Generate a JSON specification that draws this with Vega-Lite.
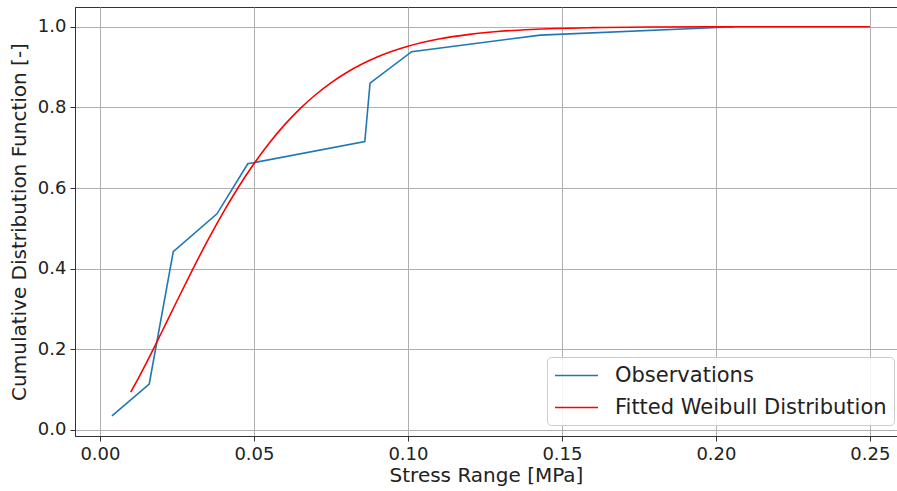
{
  "$schema": "https://vega.github.io/schema/vega-lite/v6.json",
  "width": 822,
  "height": 429,
  "autosize": {"type": "none"},
  "padding": {"left": 75, "top": 7, "right": 0, "bottom": 55},
  "background": "white",
  "config": {
    "font": "DejaVu Sans",
    "view": {"stroke": "#333333", "strokeWidth": 1}
  },
  "data": {
    "values": [
      {"x": 0.0039, "y": 0.035, "series": "Observations", "o": 1},
      {"x": 0.016, "y": 0.114, "series": "Observations", "o": 2},
      {"x": 0.0238, "y": 0.442, "series": "Observations", "o": 3},
      {"x": 0.038, "y": 0.536, "series": "Observations", "o": 4},
      {"x": 0.048, "y": 0.66, "series": "Observations", "o": 5},
      {"x": 0.086, "y": 0.715, "series": "Observations", "o": 6},
      {"x": 0.0877, "y": 0.86, "series": "Observations", "o": 7},
      {"x": 0.1012, "y": 0.938, "series": "Observations", "o": 8},
      {"x": 0.143, "y": 0.979, "series": "Observations", "o": 9},
      {"x": 0.206, "y": 1.0, "series": "Observations", "o": 10},
      {"x": 0.01, "y": 0.094, "series": "Fitted Weibull Distribution", "o": 1},
      {"x": 0.0125, "y": 0.1285, "series": "Fitted Weibull Distribution", "o": 2},
      {"x": 0.015, "y": 0.1651, "series": "Fitted Weibull Distribution", "o": 3},
      {"x": 0.0175, "y": 0.2029, "series": "Fitted Weibull Distribution", "o": 4},
      {"x": 0.02, "y": 0.2417, "series": "Fitted Weibull Distribution", "o": 5},
      {"x": 0.025, "y": 0.3198, "series": "Fitted Weibull Distribution", "o": 6},
      {"x": 0.03, "y": 0.3966, "series": "Fitted Weibull Distribution", "o": 7},
      {"x": 0.035, "y": 0.4702, "series": "Fitted Weibull Distribution", "o": 8},
      {"x": 0.04, "y": 0.5391, "series": "Fitted Weibull Distribution", "o": 9},
      {"x": 0.045, "y": 0.6026, "series": "Fitted Weibull Distribution", "o": 10},
      {"x": 0.05, "y": 0.6601, "series": "Fitted Weibull Distribution", "o": 11},
      {"x": 0.055, "y": 0.7116, "series": "Fitted Weibull Distribution", "o": 12},
      {"x": 0.06, "y": 0.7571, "series": "Fitted Weibull Distribution", "o": 13},
      {"x": 0.065, "y": 0.7968, "series": "Fitted Weibull Distribution", "o": 14},
      {"x": 0.07, "y": 0.8312, "series": "Fitted Weibull Distribution", "o": 15},
      {"x": 0.075, "y": 0.8607, "series": "Fitted Weibull Distribution", "o": 16},
      {"x": 0.08, "y": 0.8858, "series": "Fitted Weibull Distribution", "o": 17},
      {"x": 0.09, "y": 0.9246, "series": "Fitted Weibull Distribution", "o": 18},
      {"x": 0.1, "y": 0.9513, "series": "Fitted Weibull Distribution", "o": 19},
      {"x": 0.11, "y": 0.9693, "series": "Fitted Weibull Distribution", "o": 20},
      {"x": 0.12, "y": 0.981, "series": "Fitted Weibull Distribution", "o": 21},
      {"x": 0.13, "y": 0.9885, "series": "Fitted Weibull Distribution", "o": 22},
      {"x": 0.14, "y": 0.9932, "series": "Fitted Weibull Distribution", "o": 23},
      {"x": 0.16, "y": 0.9977, "series": "Fitted Weibull Distribution", "o": 24},
      {"x": 0.18, "y": 0.9993, "series": "Fitted Weibull Distribution", "o": 25},
      {"x": 0.2, "y": 0.9998, "series": "Fitted Weibull Distribution", "o": 26},
      {"x": 0.22, "y": 1.0, "series": "Fitted Weibull Distribution", "o": 27},
      {"x": 0.25, "y": 1.0, "series": "Fitted Weibull Distribution", "o": 28}
    ]
  },
  "encoding": {
    "x": {
      "field": "x", "type": "quantitative",
      "scale": {"domain": [-0.0081, 0.2588], "nice": false, "zero": false},
      "axis": {
        "title": "Stress Range [MPa]",
        "values": [0, 0.05, 0.1, 0.15, 0.2, 0.25],
        "format": ".2f",
        "labelFontSize": 18, "labelColor": "#222", "labelPadding": 4,
        "titleFontSize": 20, "titleFontWeight": "normal", "titleColor": "#222", "titlePadding": 2,
        "tickSize": 5, "tickColor": "#333", "domainColor": "#333",
        "gridColor": "#b0b0b0", "gridWidth": 1
      }
    },
    "y": {
      "field": "y", "type": "quantitative",
      "scale": {"domain": [-0.0149, 1.0488], "nice": false, "zero": false},
      "axis": {
        "title": "Cumulative Distribution Function [-]",
        "values": [0, 0.2, 0.4, 0.6, 0.8, 1.0],
        "format": ".1f",
        "labelFontSize": 18, "labelColor": "#222", "labelPadding": 4,
        "titleFontSize": 20, "titleFontWeight": "normal", "titleColor": "#222", "titlePadding": 8,
        "tickSize": 5, "tickColor": "#333", "domainColor": "#333",
        "gridColor": "#b0b0b0", "gridWidth": 1
      }
    },
    "order": {"field": "o"},
    "color": {
      "field": "series", "type": "nominal",
      "scale": {"domain": ["Observations", "Fitted Weibull Distribution"], "range": ["#1f77b4", "#ff0000"]},
      "legend": {
        "title": null,
        "orient": "none",
        "legendX": 472,
        "legendY": 350,
        "symbolType": "M-1,0H3.1",
        "symbolSize": 441,
        "symbolStrokeWidth": 1.6,
        "symbolFillColor": "transparent",
        "labelFontSize": 21,
        "labelLimit": 400,
        "labelColor": "#222",
        "labelOffset": 38,
        "rowPadding": 10,
        "padding": 7,
        "fillColor": "rgba(255,255,255,0.85)",
        "strokeColor": "#cccccc",
        "cornerRadius": 4
      }
    }
  },
  "layer": [
    {
      "transform": [{"filter": "datum.series === 'Observations'"}],
      "mark": {"type": "line", "strokeWidth": 1.6, "clip": true}
    },
    {
      "transform": [{"filter": "datum.series !== 'Observations'"}],
      "mark": {"type": "line", "strokeWidth": 1.6, "interpolate": "monotone", "clip": true}
    }
  ]
}
